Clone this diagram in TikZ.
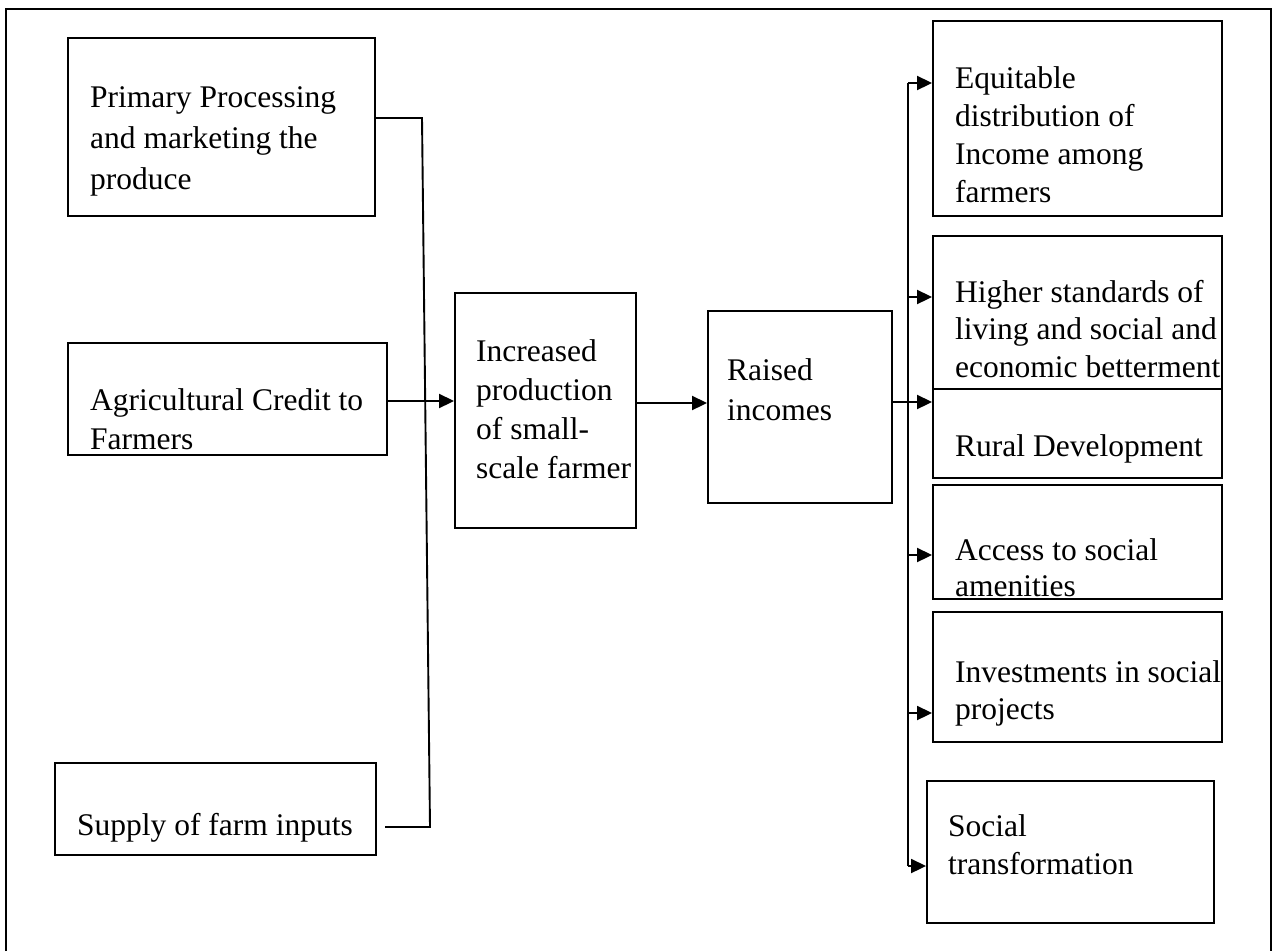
\documentclass[tikz,border=0pt]{standalone}
\usepackage{fontspec}
\setmainfont{Liberation Serif}
\usetikzlibrary{arrows.meta}
\begin{document}
\begin{tikzpicture}[x=1pt,y=-1pt,
  box/.style={draw, line width=1.9pt, inner sep=0pt, rectangle},
  txt/.style={anchor=north west, inner sep=0pt, align=left, font=\fontsize{31.5}{#1}\selectfont},
  txt/.default=40,
  conn/.style={line width=1.9pt},
  arr/.style={line width=1.9pt, -{Triangle[length=15pt,width=14pt]}}]
\useasboundingbox (0,0) rectangle (1274,951);
% outer frame
\draw[line width=1.9pt] (6,951) -- (6,9) -- (1271,9) -- (1271,951);
% boxes
\newcommand{\bx}[5]{\node[box, minimum width={#4-#2}, minimum height={#5-#3}] (#1) at ({(#2+#4)/2},{(#3+#5)/2}) {};}
\bx{prim}{68}{38}{375}{216}
\bx{agri}{68}{343}{387}{455}
\bx{supp}{55}{763}{376}{855}
\bx{incr}{455}{293}{636}{528}
\bx{rais}{708}{311}{892}{503}
\bx{equi}{933}{21}{1222}{216}
\bx{high}{933}{236}{1222}{389}
\bx{rura}{933}{389}{1222}{478}
\bx{acce}{933}{485}{1222}{599}
\bx{inve}{933}{612}{1222}{742}
\bx{soci}{927}{781}{1214}{923}
% texts
\node[txt=41] (ptxt) at (90,79) {\strut Primary Processing\\and marketing the\\produce};
\node[txt=39] (atxt) at (90,383) {\strut Agricultural Credit to\\Farmers};
\node[txt] (stxt) at (77,807) {\strut Supply of farm inputs};
\node[txt=39] (itxt) at (476,334) {\strut Increased\\production\\of small-\\scale farmer};
\node[txt] (rtxt) at (727,352) {\strut Raised\\incomes};
\node[txt=38] (etxt) at (955,62) {\strut Equitable\\distribution of\\Income among\\farmers};
\node[txt=37.5] (htxt) at (955,276) {\strut Higher standards of\\living and social and\\economic betterment};
\node[txt] (rdtxt) at (955,428) {\strut Rural Development};
\node[txt=36] (actxt) at (955,535) {\strut Access to social\\amenities};
\node[txt=37.5] (ivtxt) at (955,656) {\strut Investments in social\\projects};
\node[txt=38] (sotxt) at (948,810) {\strut Social\\transformation};
% left connectors
\coordinate (c1) at (422,118);
\coordinate (c2) at (430,827);
\coordinate (c3) at (385,827);
\draw[conn] (prim.east |- c1) -- (c1) -- (c2) -- (c3);
\coordinate (a1) at (0,401);
\draw[arr] (agri.east |- a1) -- (incr.west |- a1);
\coordinate (a2) at (0,403);
\draw[arr] (incr.east |- a2) -- (rais.west |- a2);
% right trunk
\coordinate (t0) at (908,83);
\coordinate (t1) at (908,866);
\coordinate (a3) at (0,402);
\draw[arr] (rais.east |- a3) -- (rura.west |- a3);
\draw[conn] (t0) -- (t1);
\draw[arr] (t0) -- (equi.west |- t0);
\coordinate (t2) at (908,297);
\draw[arr] (t2) -- (high.west |- t2);
\coordinate (t3) at (908,555);
\draw[arr] (t3) -- (acce.west |- t3);
\coordinate (t4) at (908,713);
\draw[arr] (t4) -- (inve.west |- t4);
\draw[arr] (t1) -- (soci.west |- t1);
\end{tikzpicture}
\end{document}
